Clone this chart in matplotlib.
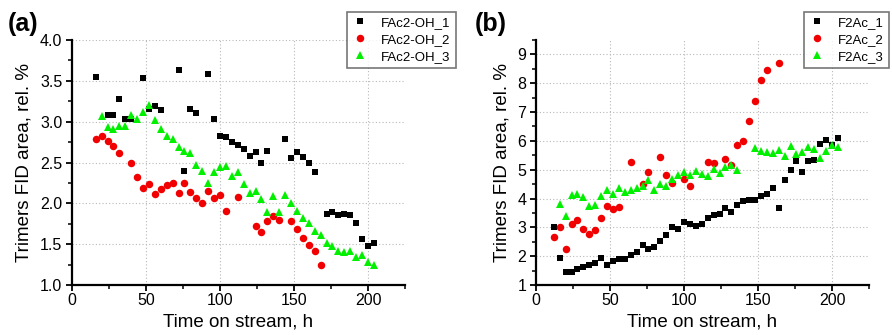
import matplotlib
matplotlib.use("Agg")
import matplotlib.pyplot as plt
from matplotlib.ticker import MultipleLocator, FormatStrFormatter

plt.rcParams["font.family"] = ["Liberation Sans", "DejaVu Sans"]

# ---- Panel (a): FAc2-OH runs ----
a1_t = [16, 24, 28, 32, 36, 40, 48, 52, 56, 60, 72, 76, 80, 84, 92, 96, 100, 104, 108, 112,
        116, 120, 124, 128, 132, 144, 148, 152, 156, 160, 164, 172, 176, 180, 184, 188, 192,
        196, 200, 204]
a1_v = [3.55, 3.08, 3.08, 3.28, 3.03, 3.03, 3.54, 3.15, 3.19, 3.14, 3.63, 2.39, 3.16, 3.11,
        3.58, 3.03, 2.82, 2.81, 2.75, 2.71, 2.67, 2.58, 2.63, 2.50, 2.64, 2.79, 2.55, 2.63,
        2.57, 2.49, 2.38, 1.87, 1.90, 1.86, 1.87, 1.86, 1.76, 1.56, 1.48, 1.51]

a2_t = [16, 20, 24, 28, 32, 40, 44, 48, 52, 56, 60, 64, 68, 72, 76, 80, 84, 88, 92, 96, 100,
        104, 112, 124, 128, 132, 136, 140, 148, 152, 156, 160, 164, 168]
a2_v = [2.79, 2.82, 2.76, 2.70, 2.62, 2.49, 2.32, 2.19, 2.24, 2.11, 2.18, 2.22, 2.25, 2.13,
        2.25, 2.14, 2.07, 2.00, 2.15, 2.07, 2.10, 1.91, 2.08, 1.72, 1.65, 1.78, 1.84, 1.80,
        1.78, 1.69, 1.58, 1.49, 1.42, 1.24]

a3_t = [20, 24, 28, 32, 36, 40, 44, 48, 52, 56, 60, 64, 68, 72, 76, 80, 84, 88, 92, 96, 100,
        104, 108, 112, 116, 120, 124, 128, 132, 136, 140, 144, 148, 152, 156, 160, 164, 168,
        172, 176, 180, 184, 188, 192, 196, 200, 204]
a3_v = [3.07, 2.93, 2.91, 2.95, 2.95, 3.08, 3.03, 3.12, 3.21, 3.02, 2.91, 2.83, 2.79, 2.69,
        2.64, 2.62, 2.47, 2.39, 2.25, 2.38, 2.45, 2.46, 2.33, 2.38, 2.24, 2.13, 2.15, 2.05,
        1.89, 2.09, 1.89, 2.10, 2.01, 1.91, 1.82, 1.76, 1.66, 1.61, 1.51, 1.48, 1.42, 1.40,
        1.42, 1.34, 1.37, 1.28, 1.25]

# ---- Panel (b): F2Ac runs ----
b1_t = [12, 16, 20, 24, 28, 32, 36, 40, 44, 48, 52, 56, 60, 64, 68, 72, 76, 80, 84, 88, 92,
        96, 100, 104, 108, 112, 116, 120, 124, 128, 132, 136, 140, 144, 148, 152, 156, 160,
        164, 168, 172, 176, 180, 184, 188, 192, 196, 200, 204]
b1_v = [3.00, 1.93, 1.45, 1.45, 1.54, 1.62, 1.68, 1.78, 1.92, 1.69, 1.84, 1.91, 1.90, 2.05,
        2.13, 2.39, 2.26, 2.31, 2.51, 2.74, 3.00, 2.93, 3.17, 3.12, 3.05, 3.12, 3.34, 3.43,
        3.47, 3.68, 3.55, 3.79, 3.92, 3.95, 3.95, 4.09, 4.15, 4.38, 3.68, 4.66, 5.00, 5.29,
        4.92, 5.29, 5.34, 5.88, 6.04, 5.85, 6.10]

b2_t = [12, 16, 20, 24, 28, 32, 36, 40, 44, 48, 52, 56, 64, 72, 76, 84, 88, 92, 100, 104,
        116, 120, 128, 132, 136, 140, 144, 148, 152, 156, 164]
b2_v = [2.65, 3.00, 2.24, 3.10, 3.25, 2.95, 2.78, 2.91, 3.32, 3.75, 3.64, 3.71, 5.26, 4.52,
        4.92, 5.45, 4.82, 4.54, 4.68, 4.44, 5.28, 5.22, 5.36, 5.18, 5.84, 5.99, 6.68, 7.38,
        8.11, 8.45, 8.71]

b3_t = [16, 20, 24, 28, 32, 36, 40, 44, 48, 52, 56, 60, 64, 68, 72, 76, 80, 84, 88, 92, 96,
        100, 104, 108, 112, 116, 120, 124, 128, 132, 136, 148, 152, 156, 160, 164, 168, 172,
        176, 180, 184, 188, 192, 196, 200, 204]
b3_v = [3.80, 3.38, 4.12, 4.14, 4.06, 3.75, 3.76, 4.08, 4.30, 4.15, 4.36, 4.21, 4.28, 4.37,
        4.45, 4.65, 4.30, 4.52, 4.43, 4.68, 4.80, 4.91, 4.81, 4.95, 4.84, 4.77, 5.02, 4.88,
        5.10, 5.17, 5.00, 5.77, 5.65, 5.61, 5.59, 5.67, 5.49, 5.82, 5.55, 5.61, 5.80, 5.71,
        5.40, 5.65, 5.85, 5.79]

labels_a = ["FAc2-OH_1", "FAc2-OH_2", "FAc2-OH_3"]
labels_b = ["F2Ac_1", "F2Ac_2", "F2Ac_3"]

BLACK = "#000000"
RED = "#F00000"
GREEN = "#00F000"

W, H = 892, 335
fig = plt.figure(figsize=(W / 100, H / 100), dpi=100)


def px_axes(left, right, top, bottom):
    return fig.add_axes([left / W, 1 - bottom / H, (right - left) / W, (bottom - top) / H])


def style_axes(ax, ymin, ymax, ymaj, ymin_step):
    ax.set_xlim(0, 225)
    ax.set_ylim(ymin, ymax)
    ax.xaxis.set_major_locator(MultipleLocator(50))
    ax.xaxis.set_minor_locator(MultipleLocator(25))
    ax.yaxis.set_major_locator(MultipleLocator(ymaj))
    ax.yaxis.set_minor_locator(MultipleLocator(ymin_step))
    for s in ("top", "right"):
        ax.spines[s].set_visible(False)
    for s in ("left", "bottom"):
        ax.spines[s].set_linewidth(1.6)
    ax.tick_params(which="major", direction="out", length=4.5, width=1.3, labelsize=11.5)
    ax.tick_params(which="minor", direction="out", length=2.8, width=1.1)
    ax.tick_params(axis="x", which="major", pad=1)
    ax.tick_params(axis="y", which="major", pad=2.5)
    ax.grid(True, which="major", color="#B8B8B8", linestyle=(0, (1, 2)), linewidth=0.8)
    ax.set_axisbelow(True)
    ax.set_xlabel("Time on stream, h", fontsize=13.5, labelpad=4)
    ax.set_ylabel("Trimers FID area, rel. %", fontsize=13.5, labelpad=5)


def draw(ax, series, labels, legend_right):
    markers = [("s", BLACK, 4.6), ("o", RED, 5.4), ("^", GREEN, 6.0)]
    for (t, v), lab, (m, c, ms) in zip(series, labels, markers):
        ax.plot(t, v, linestyle="none", marker=m, color=c, markersize=ms,
                markeredgewidth=0, label=lab, zorder=3)
    leg = ax.legend(loc="upper right", bbox_to_anchor=(legend_right / W, 1 - 11.5 / H),
                    bbox_transform=fig.transFigure, fontsize=9.5, frameon=True,
                    fancybox=False, handlelength=1.2, handletextpad=1.0,
                    borderpad=0.4, labelspacing=0.35, borderaxespad=0.0)
    leg.get_frame().set_edgecolor("#555555")
    leg.get_frame().set_linewidth(1.2)


ax_a = px_axes(72, 405, 40, 285)
style_axes(ax_a, 1.0, 4.0, 0.5, 0.25)
ax_a.yaxis.set_major_formatter(FormatStrFormatter("%.1f"))
draw(ax_a, [(a1_t, a1_v), (a2_t, a2_v), (a3_t, a3_v)], labels_a, 456)
fig.text(8 / W, 1 - 24 / H, "(a)", fontsize=18, fontweight="bold", va="center", ha="left")

ax_b = px_axes(536, 869, 40, 285)
style_axes(ax_b, 1.0, 9.5, 1, 0.5)
draw(ax_b, [(b1_t, b1_v), (b2_t, b2_v), (b3_t, b3_v)], labels_b, 889)
fig.text(475 / W, 1 - 24 / H, "(b)", fontsize=18, fontweight="bold", va="center", ha="left")

fig.savefig("out.png", dpi=100)
